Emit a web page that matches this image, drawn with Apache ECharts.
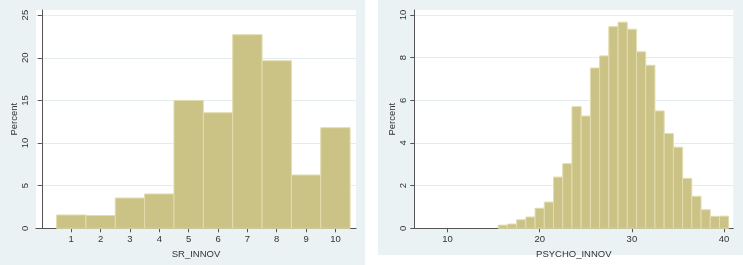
<!DOCTYPE html>
<html>
<head>
<meta charset="utf-8">
<script src="https://cdn.jsdelivr.net/npm/echarts@6/dist/echarts.min.js"></script>
<style>
  html, body { margin: 0; padding: 0; background: #fff; }
  #chart { width: 743px; height: 265px; }
</style>
</head>
<body>
<div id="chart"></div>
<script>
// SR_INNOV histogram (left)
var srBins = [1, 2, 3, 4, 5, 6, 7, 8, 9, 10];
var srPercent = [1.56, 1.5, 3.55, 4.03, 15.0, 13.55, 22.7, 19.65, 6.25, 11.8];
var srXTicks = [1, 2, 3, 4, 5, 6, 7, 8, 9, 10];
var srYTicks = [0, 5, 10, 15, 20, 25];

// PSYCHO_INNOV histogram (right)
var psyBins = [16, 17, 18, 19, 20, 21, 22, 23, 24, 25, 26, 27, 28, 29, 30,
  31, 32, 33, 34, 35, 36, 37, 38, 39, 40];
var psyPercent = [0.15, 0.2, 0.4, 0.53, 0.94, 1.23, 2.4, 3.03, 5.7, 5.26,
  7.51, 8.08, 9.45, 9.66, 9.33, 8.27, 7.64, 5.5, 4.44, 3.8,
  2.34, 1.5, 0.87, 0.56, 0.57];
var psyXTicks = [10, 20, 30, 40];
var psyYTicks = [0, 2, 4, 6, 8, 10];

var binWidth = 1;
var textColor = "#333";
var fontFamily = "Liberation Sans, Arial, sans-serif";

function toHist(bins, vals) {
  var out = [];
  for (var i = 0; i < bins.length; i++) {
    out.push([bins[i] - binWidth / 2, bins[i] + binWidth / 2, vals[i]]);
  }
  return out;
}

// draw one histogram bar through the axes
function renderBar(params, api) {
  var p0 = api.coord([api.value(0), api.value(2)]);
  var p1 = api.coord([api.value(1), 0]);
  return {
    type: "rect",
    shape: { x: p0[0], y: p0[1], width: p1[0] - p0[0], height: p1[1] - p0[1] },
    style: { fill: "#cbc285", stroke: "#e2dcaf", lineWidth: 1 }
  };
}

function xAxisOpt(idx, min, max, ticks, name) {
  return {
    type: "value",
    gridIndex: idx,
    min: min,
    max: max,
    name: name,
    nameLocation: "middle",
    nameGap: 15,
    nameTextStyle: { color: textColor, fontSize: 9.5, fontFamily: fontFamily },
    axisLine: { show: true, onZero: false, lineStyle: { color: "#555", width: 1 } },
    axisTick: { show: true, length: 4, customValues: ticks, lineStyle: { color: "#555" } },
    axisLabel: { customValues: ticks, margin: 6, color: textColor, fontSize: 9.5, fontFamily: fontFamily },
    splitLine: { show: false }
  };
}

function yAxisOpt(idx, max, ticks) {
  return {
    type: "value",
    gridIndex: idx,
    min: 0,
    max: max,
    name: "Percent",
    nameLocation: "middle",
    nameRotate: 90,
    nameGap: 17,
    nameTextStyle: { color: textColor, fontSize: 9.5, fontFamily: fontFamily },
    axisLine: { show: true, lineStyle: { color: "#555", width: 1 } },
    axisTick: { show: true, length: 4, customValues: ticks, lineStyle: { color: "#555" } },
    axisLabel: { customValues: ticks, rotate: 90, margin: 6, color: textColor, fontSize: 9.5, fontFamily: fontFamily },
    splitLine: { show: true, lineStyle: { color: "#e3edf0", width: 1 } }
  };
}

var myChart = echarts.init(document.getElementById("chart"), null, { renderer: "canvas" });
var option = {
  backgroundColor: "#eaf2f3",
  animation: false,
  graphic: [
    // white gap between the two panels and below the right one
    { type: "rect", left: 365, top: 0, shape: { width: 13, height: 265 }, style: { fill: "#fff" }, z: -10 },
    { type: "rect", left: 378, top: 255, shape: { width: 365, height: 10 }, style: { fill: "#fff" }, z: -10 }
  ],
  grid: [
    { left: 36, top: 10, width: 320, bottom: 36.7, show: true, backgroundColor: "#fff", borderWidth: 0 },
    { left: 414.3, top: 10, width: 319, bottom: 36.7, show: true, backgroundColor: "#fff", borderWidth: 0 }
  ],
  xAxis: [
    xAxisOpt(0, -0.2, 10.7, srXTicks, "SR_INNOV"),
    xAxisOpt(1, 6.4, 41, psyXTicks, "PSYCHO_INNOV")
  ],
  yAxis: [
    yAxisOpt(0, 25.6, srYTicks),
    yAxisOpt(1, 10.23, psyYTicks)
  ],
  series: [
    {
      type: "custom",
      xAxisIndex: 0,
      yAxisIndex: 0,
      renderItem: renderBar,
      encode: { x: [0, 1], y: 2 },
      data: toHist(srBins, srPercent)
    },
    {
      type: "custom",
      xAxisIndex: 1,
      yAxisIndex: 1,
      renderItem: renderBar,
      encode: { x: [0, 1], y: 2 },
      data: toHist(psyBins, psyPercent)
    }
  ]
};
myChart.setOption(option);
window.addEventListener("resize", () => {
  myChart.resize();
});
</script>
</body>
</html>
